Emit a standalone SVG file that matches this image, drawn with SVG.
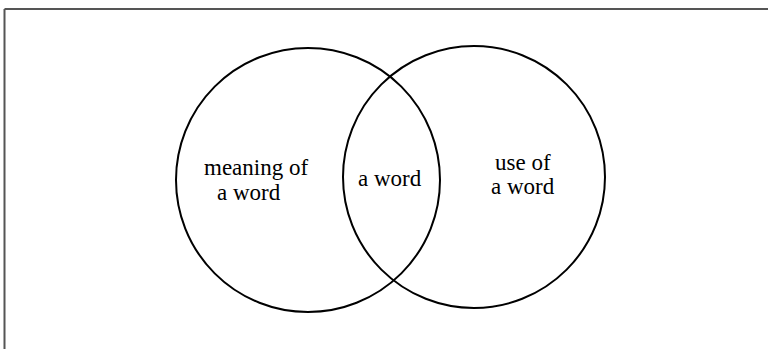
<svg xmlns="http://www.w3.org/2000/svg" width="768" height="349" viewBox="0 0 768 349">
<style>
.c{fill:none;stroke:#000;stroke-width:2}
.t{font-family:"Liberation Serif","Times New Roman",serif;font-size:23px;fill:#000}
.f{stroke:#555;stroke-width:2;fill:none}
</style>
<rect width="768" height="349" fill="#fff"/>
<g id="frame">
<line class="f" x1="4.5" y1="9" x2="768" y2="9" stroke="#333"/>
<line class="f" x1="4.5" y1="9" x2="4.5" y2="349" stroke="#777"/>
</g>
<g id="meaning">
<circle class="c" cx="308" cy="180" r="132"/>
<text class="t" x="204" y="175">meaning of</text>
<text class="t" x="217" y="200">a word</text>
</g>
<g id="use">
<circle class="c" cx="474" cy="177" r="131"/>
<text class="t" x="495" y="170">use of</text>
<text class="t" x="491" y="194">a word</text>
</g>
<g id="intersection">
<text class="t" x="358" y="186">a word</text>
</g>
<g id="connectors"/>
</svg>
